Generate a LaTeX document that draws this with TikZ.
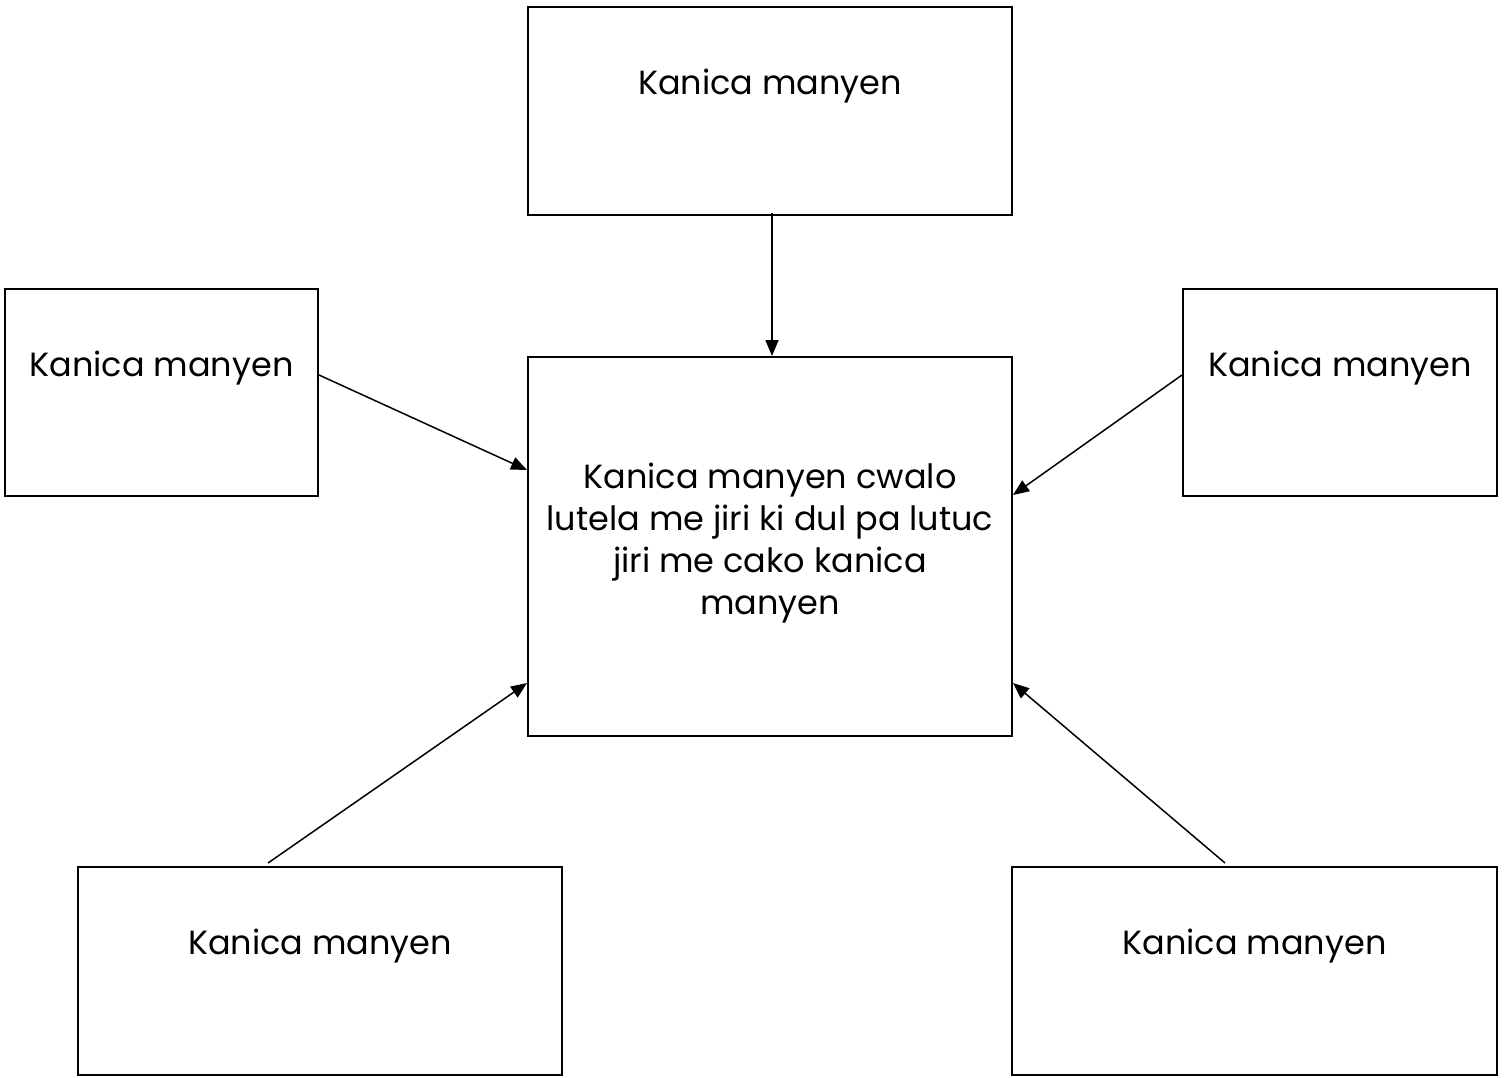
\documentclass[tikz,border=0pt]{standalone}
\usepackage{fontspec}
\setmainfont{Poppins}
\usetikzlibrary{arrows.meta,calc}

\tikzset{every picture/.style={line width=1.5pt}}
\tikzset{
  box/.style={draw, line width=2pt, rectangle, inner sep=0pt},
  lbl/.style={font=\fontsize{33.5}{42}\selectfont, align=center, inner sep=0pt},
  arr/.style={-{Triangle[length=16pt,width=13pt]}, line width=1.5pt}
}

\begin{document}
\begin{tikzpicture}[x=1pt,y=1pt,yscale=-1,xscale=1]
\useasboundingbox (0,0) rectangle (1509,1077);

%Boxes
\node[box, minimum width=484pt, minimum height=208pt] (top) at (770,111) {};
\node[box, minimum width=484pt, minimum height=379pt] (mid) at (770,546.5) {};
\node[box, minimum width=313pt, minimum height=207pt] (lb) at (161.5,392.5) {};
\node[box, minimum width=314pt, minimum height=207pt] (rb) at (1340,392.5) {};
\node[box, minimum width=484pt, minimum height=208pt] (bl) at (320,971) {};
\node[box, minimum width=485pt, minimum height=208pt] (br) at (1254.5,971) {};

%Texts
\node[lbl] (ttop) at (770,86) {Kanica manyen};
\node[lbl] (tmid) at (770,543) {Kanica manyen cwalo\\lutela me jiri ki dul pa lutuc\\jiri me cako kanica\\manyen};
\node[lbl] (tlb) at (161.5,368) {Kanica manyen};
\node[lbl] (trb) at (1340,368) {Kanica manyen};
\node[lbl] (tbl) at (320,946) {Kanica manyen};
\node[lbl] (tbr) at (1254.5,946) {Kanica manyen};

%Arrows
\draw[arr] ($(top.south)+(2,-3)$) -- ($(mid.north)+(2,0)$);
\draw[arr] ($(lb.east)+(0,-17.5)$) -- ($(mid.west)+(0,-76.5)$);
\draw[arr] ($(rb.west)+(0,-17.5)$) -- ($(mid.east)+(0,-51.5)$);
\draw[arr] ($(bl.north)+(-52,-3)$) -- ($(mid.west)+(0,136.5)$);
\draw[arr] ($(br.north)+(-29.5,-3)$) -- ($(mid.east)+(0,136.5)$);

\end{tikzpicture}
\end{document}
